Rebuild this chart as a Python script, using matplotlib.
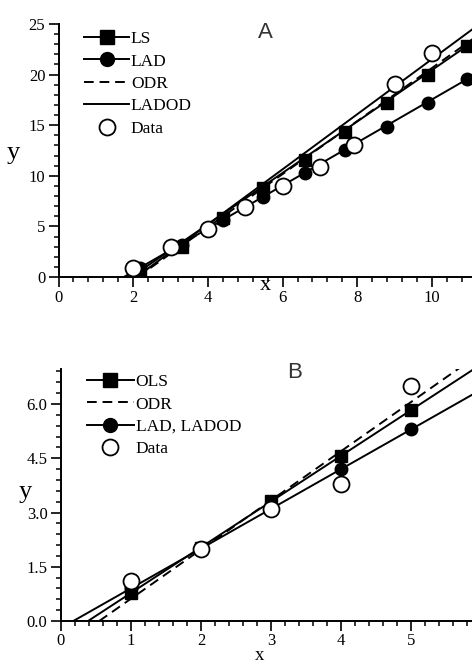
import matplotlib
matplotlib.use('Agg')
import matplotlib.pyplot as plt
from matplotlib.lines import Line2D
from matplotlib.ticker import MultipleLocator, FormatStrFormatter

plt.rcParams['font.family'] = ['Liberation Serif', 'DejaVu Serif']

# ── Panel A data ─────────────────────────────────────────────────────
data_a_x = [2, 3, 4, 5, 6, 7, 7.9, 9, 10]
data_a_y = [0.85, 3.0, 4.75, 6.95, 9.0, 10.9, 13.0, 19.1, 22.1]
fit_a_x = [2.18, 3.3, 4.4, 5.48, 6.6, 7.67, 8.79, 9.9, 10.95]
ls_a_y = [0.69, 3.0, 5.8, 8.76, 11.56, 14.36, 17.16, 19.96, 22.8]
lad_a_y = [0.9, 3.2, 5.6, 7.93, 10.3, 12.55, 14.85, 17.22, 19.53]
# fitted lines, end points (x, y)
ls_a_line = ([1.95, 11.2], [0, 23.5])
lad_a_line = ([1.75, 11.2], [0, 20.1])
odr_a_line = ([2.12, 11.2], [0, 23.8])
ladod_a_line = ([2.09, 11.2], [0, 24.8])

# ── Panel B data ─────────────────────────────────────────────────────
data_b_x = [1, 2, 3, 4, 5]
data_b_y = [1.1, 2.0, 3.1, 3.8, 6.5]
ols_b_y = [0.77, 2.03, 3.33, 4.56, 5.83]
lad_b_y = [0.9, 2.0, 3.1, 4.2, 5.3]
ols_b_line = ([0.39, 6.0], [0, 7.1])
odr_b_line = ([0.55, 6.0], [0, 7.42])
lad_b_line = ([0.18, 6.0], [0, 6.4])

W, H = 472, 664
fig = plt.figure(figsize=(W / 100, H / 100), dpi=100)


def px_axes(left, top, right, bottom):
    return fig.add_axes([left / W, 1 - bottom / H, (right - left) / W,
                         (bottom - top) / H])


def style_axes(ax):
    for s in ['top', 'right']:
        ax.spines[s].set_visible(False)
    for s in ['left', 'bottom']:
        ax.spines[s].set_linewidth(1.4)
    ax.tick_params(which='major', direction='out', length=7.5, width=1.2,
                   labelsize=12, pad=2)
    ax.tick_params(which='minor', direction='out', length=3.5, width=1.1)


DASH = (0, (5, 3))
LW = 1.4

# ── Panel A ──────────────────────────────────────────────────────────
ax1 = px_axes(58.5, 24, 472, 277)
ax1.plot(*ladod_a_line, color='black', lw=LW)
ax1.plot(*odr_a_line, color='black', lw=LW, ls=DASH)
ax1.plot(*ls_a_line, color='black', lw=LW)
ax1.plot(*lad_a_line, color='black', lw=LW)
ax1.plot(fit_a_x, lad_a_y, 'o', color='black', ms=9)
ax1.plot(fit_a_x, ls_a_y, 's', color='black', ms=9)
ax1.plot(data_a_x, data_a_y, 'o', mfc='white', mec='black', mew=1.3, ms=11.5)
ax1.set_xlim(0, (472 - 58.5) / 37.35)
ax1.set_ylim(0, 25)
ax1.xaxis.set_major_locator(MultipleLocator(2))
ax1.xaxis.set_minor_locator(MultipleLocator(0.4))
ax1.yaxis.set_major_locator(MultipleLocator(5))
ax1.yaxis.set_minor_locator(MultipleLocator(1))
style_axes(ax1)

handles_a = [
    Line2D([], [], color='black', lw=LW, marker='s', ms=10),
    Line2D([], [], color='black', lw=LW, marker='o', ms=10),
    Line2D([], [], color='black', lw=LW, ls=DASH),
    Line2D([], [], color='black', lw=LW),
    Line2D([], [], ls='none', marker='o', mfc='white', mec='black', mew=1.3, ms=11.5),
]
ax1.legend(handles_a, ['LS', 'LAD', 'ODR', 'LADOD', 'Data'],
           loc='upper left', bbox_to_anchor=(84 / W, 1 - 31 / H),
           bbox_transform=fig.transFigure, frameon=False, fontsize=12.5,
           handlelength=2.6, handletextpad=0.1, labelspacing=0.36,
           borderpad=0, borderaxespad=0)

fig.text(13 / W, 1 - 153 / H, 'y', fontsize=19, ha='center', va='center')
fig.text(265 / W, 1 - 286 / H, 'x', fontsize=16, ha='center', va='center')
fig.text(265 / W, 1 - 33 / H, 'A', fontsize=16, color='#333333',
         family=['Liberation Sans', 'DejaVu Sans'], ha='center', va='center')

# ── Panel B ──────────────────────────────────────────────────────────
ax2 = px_axes(60.7, 369.3, 472, 621)
ax2.plot(*odr_b_line, color='black', lw=LW, ls=DASH)
ax2.plot(*ols_b_line, color='black', lw=LW)
ax2.plot(*lad_b_line, color='black', lw=LW)
ax2.plot(data_b_x, lad_b_y, 'o', color='black', ms=9)
ax2.plot(data_b_x, ols_b_y, 's', color='black', ms=9)
ax2.plot(data_b_x, data_b_y, 'o', mfc='white', mec='black', mew=1.3, ms=11.5)
ax2.set_xlim(0, (472 - 60.7) / 70.1)
ax2.set_ylim(0, 6.96)
ax2.xaxis.set_major_locator(MultipleLocator(1))
ax2.xaxis.set_minor_locator(MultipleLocator(0.2))
ax2.yaxis.set_major_locator(MultipleLocator(1.5))
ax2.yaxis.set_minor_locator(MultipleLocator(0.3))
ax2.yaxis.set_major_formatter(FormatStrFormatter('%.1f'))
style_axes(ax2)
ax2.tick_params(axis='x', which='major', pad=1)

handles_b = [
    Line2D([], [], color='black', lw=LW, marker='s', ms=10),
    Line2D([], [], color='black', lw=LW, ls=DASH),
    Line2D([], [], color='black', lw=LW, marker='o', ms=10),
    Line2D([], [], ls='none', marker='o', mfc='white', mec='black', mew=1.3, ms=11.5),
]
ax2.legend(handles_b, ['OLS', 'ODR', 'LAD, LADOD', 'Data'],
           loc='upper left', bbox_to_anchor=(87 / W, 1 - 374 / H),
           bbox_transform=fig.transFigure, frameon=False, fontsize=12.5,
           handlelength=2.7, handletextpad=0.1, labelspacing=0.36,
           borderpad=0, borderaxespad=0)

fig.text(25 / W, 1 - 492 / H, 'y', fontsize=19, ha='center', va='center')
fig.text(260 / W, 0.5 / H, 'x', fontsize=13.5, ha='center', va='bottom')
fig.text(295 / W, 1 - 372 / H, 'B', fontsize=16, color='#333333',
         family=['Liberation Sans', 'DejaVu Sans'], ha='center', va='center')

fig.savefig('out.png', dpi=100)
